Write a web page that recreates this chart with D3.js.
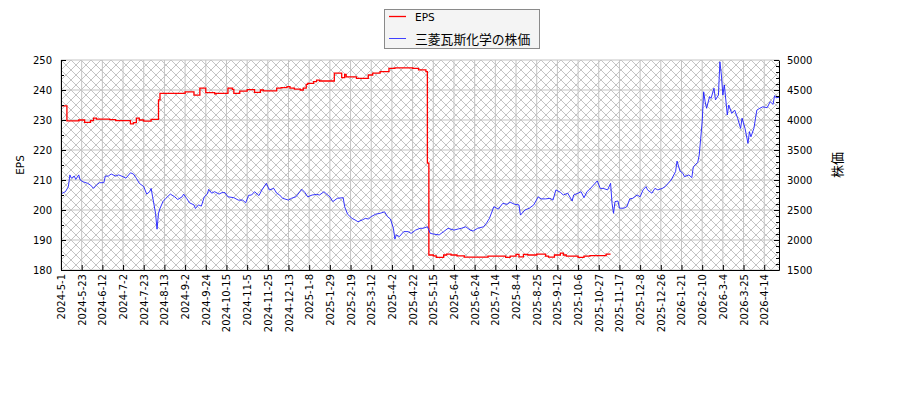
<!DOCTYPE html>
<html lang="ja">
<head>
<meta charset="UTF-8" />
<title>EPS と 三菱瓦斯化学の株価</title>
<script src="https://d3js.org/d3.v7.min.js"></script>
<style>
  body { margin: 0; background: #fff; }
  svg { display: block; font-family: "DejaVu Sans", sans-serif; }
  .tick text { font-family: "DejaVu Sans", sans-serif; font-size: 10px; fill: #000; }
  .jp { font-family: "Noto Sans CJK JP", sans-serif; }
</style>
</head>
<body>
<svg id="chart" width="900" height="400"></svg>
<script>
// x positions are trading-day numbers counted from 2024-5-1
const tickLabels = ["2024-5-1","2024-5-23","2024-6-12","2024-7-2","2024-7-23","2024-8-13","2024-9-2",
  "2024-9-24","2024-10-15","2024-11-5","2024-11-25","2024-12-13","2025-1-8","2025-1-29","2025-2-19",
  "2025-3-12","2025-4-2","2025-4-22","2025-5-15","2025-6-4","2025-6-24","2025-7-14","2025-8-4",
  "2025-8-25","2025-9-12","2025-10-6","2025-10-27","2025-11-17","2025-12-8","2025-12-26","2026-1-21",
  "2026-2-10","2026-3-4","2026-3-25","2026-4-14"];
const tickStep = 14;
const lastDay = 486;

const priceDay = [0,3,5,6,7,9,10,12,13,15,18,20,22,24,26,29,30,32,34,37,39,42,44,47,49,51,53,56,58,60,61,62,64,65,66,67,69,71,74,77,79,82,83,85,87,90,91,93,95,97,99,100,102,104,107,109,111,113,117,120,123,125,127,
  129,131,134,136,139,141,144,146,148,150,154,156,159,163,165,167,170,173,175,178,180,182,184,187,191,192,194,197,199,201,204,206,208,210,213,216,219,221,223,225,226,227,229,232,235,237,240,243,245,248,250,253,
  256,259,262,266,269,271,274,277,279,282,286,288,290,293,296,299,302,304,307,310,311,314,317,320,323,325,328,331,333,335,338,340,343,346,347,350,352,354,356,358,363,365,367,370,372,373,374,375,377,378,381,383,385,387,390,392,394,396,397,400,402,404,407,409,411,413,416,417,419,421,422,425,427,428,431,432,433,434,435,436,437,439,440,442,443,445,446,447,448,449,451,452,454,456,458,460,461,463,465,466,467,469,471,473,475,478,480,482,483,484,486];
const priceValue = [2770,2805,2890,3085,3030,3065,3010,3085,3000,2970,2945,2915,2860,2915,2955,2955,3065,3065,3100,3065,3085,3055,3030,3120,3100,3030,2945,2890,2765,2805,2860,2720,2445,2180,2445,2525,2640,2695,2765,2720,2675,2720,2765,2695,2620,2585,2525,2585,2565,2720,2765,2845,2780,2805,2765,2790,2790,2720,2705,2665,2665,2620,2745,
  2750,2805,2740,2835,2945,2835,2860,2780,2750,2695,2665,2695,2720,2845,2795,2720,2750,2760,2750,2805,2760,2720,2640,2695,2705,2555,2430,2360,2335,2305,2335,2360,2350,2390,2430,2445,2470,2390,2350,2195,2015,2085,2055,2140,2140,2110,2165,2195,2195,2220,2110,2095,
  2085,2140,2195,2165,2185,2195,2220,2165,2150,2195,2220,2280,2360,2555,2515,2610,2595,2630,2595,2585,2415,2500,2530,2585,2720,2685,2685,2695,2665,2835,2795,2750,2780,2650,2750,2780,2805,2705,2805,2850,2985,2860,2860,2835,2945,2610,2445,2640,2650,2530,2530,2555,2685,2695,2750,2720,2835,2890,2835,2780,2860,2835,2860,2890,2945,3000,3140,3315,3150,3110,3055,3085,3040,3220,3295,3415,3695,3970,4470,4305,4195,4390,4360,4530,4335,4415,4970,4750,4415,4585,4085,4250,4110,4165,4030,3860,4030,3860,3610,3805,3720,3860,4165,4195,4220,4205,4305,4260,4405,4370,4380];

const epsDay = [0,4,12,16,20,22,24,33,37,47,49,51,53,56,61,66,67,84,90,94,98,104,105,113,116,117,121,126,131,135,137,146,149,153,155,158,162,164,166,167,171,173,175,185,190,192,193,200,208,211,216,222,226,238,242,247,248,249,252,254,259,261,264,268,273,289,301,304,308,310,313,316,322,328,330,334,338,340,342,350,354,358,369,372];
const epsValue = [234.7,229.7,230.0,229.2,229.8,230.6,230.3,230.1,229.8,228.7,229.1,230.6,230.0,229.6,230.2,236.7,238.9,239.4,238.3,240.6,239.1,238.7,238.9,240.6,240.2,238.9,239.6,240.1,239.2,240.0,239.7,240.6,240.8,241.1,240.6,240.3,240.0,240.6,241.9,242.2,242.8,243.3,243.0,245.6,244.1,245.2,244.4,243.9,245.0,245.6,246.1,247.2,247.4,247.2,246.7,246.1,215.6,185.0,184.7,184.2,185.0,185.3,185.0,184.7,184.3,184.6,184.2,184.6,185.2,184.4,185.2,185.0,185.3,184.6,184.3,185.0,185.6,185.0,184.6,184.2,184.6,184.8,185.3,185.3];

const seriesNames = ["EPS", "三菱瓦斯化学の株価"];

const plot = { left: 61, right: 779, top: 60, bottom: 270 };
const svg = d3.select("#chart");

const x = d3.scaleLinear().domain([0, lastDay]).range([plot.left, plot.right]);
const yEps = d3.scaleLinear().domain([180, 250]).range([plot.bottom, plot.top]);
const yPrice = d3.scaleLinear().domain([1500, 5000]).range([plot.bottom, plot.top]);

const tickDays = tickLabels.map((d, i) => i * tickStep);

// hatched plot background
const defs = svg.append("defs");
const pat = defs.append("pattern")
  .attr("id", "hatch").attr("patternUnits", "userSpaceOnUse")
  .attr("width", 10).attr("height", 10)
  .attr("x", plot.left).attr("y", plot.top);
pat.append("rect").attr("width", 10).attr("height", 10).attr("fill", "#fff");
pat.append("path").attr("d", "M0,0L10,10M10,0L0,10")
  .attr("stroke", "#ababab").attr("stroke-width", 0.7);
defs.append("clipPath").attr("id", "clip").append("rect")
  .attr("x", plot.left).attr("y", plot.top)
  .attr("width", plot.right - plot.left).attr("height", plot.bottom - plot.top);

svg.append("rect")
  .attr("x", plot.left).attr("y", plot.top)
  .attr("width", plot.right - plot.left).attr("height", plot.bottom - plot.top)
  .attr("fill", "url(#hatch)");

// grid
const grid = svg.append("g").attr("stroke", "#c4c4c4").attr("stroke-width", 1);
grid.selectAll(".vg").data(tickDays).enter().append("line")
  .attr("x1", d => x(d)).attr("x2", d => x(d))
  .attr("y1", plot.top).attr("y2", plot.bottom);
grid.selectAll(".hg").data(d3.range(180, 251, 10)).enter().append("line")
  .attr("x1", plot.left).attr("x2", plot.right)
  .attr("y1", d => yEps(d)).attr("y2", d => yEps(d));

// lines
const lines = svg.append("g").attr("clip-path", "url(#clip)");
const epsLine = d3.line()
  .x((d, i) => x(epsDay[i])).y(d => yEps(d))
  .curve(d3.curveStepAfter);
lines.append("path").datum(epsValue)
  .attr("fill", "none").attr("stroke", "#ff0000").attr("stroke-width", 1.3)
  .attr("d", epsLine);
const priceLine = d3.line()
  .x((d, i) => x(priceDay[i])).y(d => yPrice(d));
lines.append("path").datum(priceValue)
  .attr("fill", "none").attr("stroke", "#2020ff").attr("stroke-width", 0.9)
  .attr("d", priceLine);

// axes (ticks point inward)
svg.append("g").attr("transform", `translate(${plot.left},0)`)
  .call(d3.axisLeft(yEps).tickValues(d3.range(180, 251, 10)).tickSize(-5).tickSizeOuter(0).tickPadding(9));
svg.append("g").attr("transform", `translate(${plot.left},0)`)
  .call(d3.axisLeft(yEps).tickValues(d3.range(185, 250, 10)).tickSize(-3).tickSizeOuter(0).tickFormat(""))
  .select(".domain").remove();

svg.append("g").attr("transform", `translate(${plot.right},0)`)
  .call(d3.axisRight(yPrice).tickValues(d3.range(1500, 5001, 500)).tickFormat(d3.format("d"))
    .tickSize(-5).tickSizeOuter(0).tickPadding(8));
svg.append("g").attr("transform", `translate(${plot.right},0)`)
  .call(d3.axisRight(yPrice).tickValues(d3.range(1600, 5000, 100).filter(v => v % 500 !== 0)).tickSize(-3).tickSizeOuter(0).tickFormat(""))
  .select(".domain").remove();

const bottomAxis = svg.append("g").attr("transform", `translate(0,${plot.bottom})`)
  .call(d3.axisBottom(x).tickValues(tickDays).tickFormat((d, i) => tickLabels[i]).tickSize(-5).tickSizeOuter(0));
bottomAxis.selectAll("text")
  .attr("transform", "rotate(-90)")
  .attr("x", -4).attr("y", 0).attr("dy", "0.35em")
  .style("text-anchor", "end");

svg.selectAll(".domain").attr("stroke", "#000");
svg.selectAll(".tick line").attr("stroke", "#000");

// axis titles
svg.append("text")
  .attr("transform", "translate(20,165) rotate(-90)")
  .attr("text-anchor", "middle").attr("dominant-baseline", "central")
  .attr("font-size", 10.5).text("EPS");
svg.append("text").attr("class", "jp")
  .attr("transform", "translate(836,165) rotate(-90)")
  .attr("text-anchor", "middle").attr("dominant-baseline", "central")
  .attr("font-size", 13).text("株価");

// legend
const legend = svg.append("g");
legend.append("rect")
  .attr("x", 384.5).attr("y", 9.5).attr("width", 155).attr("height", 39)
  .attr("fill", "#f4f4f4").attr("stroke", "#8a8a8a").attr("stroke-width", 1);
const legendColors = ["#ff0000", "#4040ff"];
seriesNames.forEach((name, i) => {
  const ly = 16.5 + i * 22;
  legend.append("line")
    .attr("x1", 389).attr("x2", 406).attr("y1", ly).attr("y2", ly)
    .attr("stroke", legendColors[i]).attr("stroke-width", i === 0 ? 1.3 : 1);
  legend.append("text")
    .attr("class", i === 1 ? "jp" : null)
    .attr("x", 415).attr("y", ly).attr("dominant-baseline", "central")
    .attr("font-size", i === 1 ? 12.8 : 10.5)
    .text(name);
});
</script>
</body>
</html>
